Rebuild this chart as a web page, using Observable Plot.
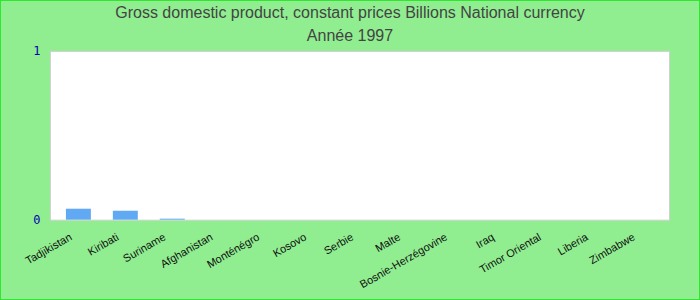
<!DOCTYPE html>
<html><head><meta charset="utf-8">
<script src="https://cdn.jsdelivr.net/npm/d3@7"></script>
<script src="https://cdn.jsdelivr.net/npm/@observablehq/plot@0.6"></script>
<style>
body{margin:0;}
#wrap{position:relative;width:700px;height:300px;box-sizing:border-box;background:#90EE90;border:1px solid #2ee82e;overflow:hidden;font-family:"Liberation Sans",Arial,sans-serif;}
.t{position:absolute;left:0;width:698px;text-align:center;color:#444;font-size:16px;}
#chart{position:absolute;left:-1px;top:-1px;}
</style></head><body>
<div id="wrap">
<div class="t" style="top:3px">Gross domestic product, constant prices Billions National currency</div>
<div class="t" style="top:26px">Année 1997</div>
<div id="chart"></div>
</div>
<script>
const countries = ["Tadjikistan","Kiribati","Suriname","Afghanistan","Monténégro","Kosovo","Serbie","Malte","Bosnie-Herzégovine","Iraq","Timor Oriental","Liberia","Zimbabwe"];
const values = [0.065,0.053,0.006,0,0,0,0,0,0,0,0,0,0];
const yTicks = [0,1];
const data = countries.map((c,i)=>({country:c,value:values[i]}));
const plot = Plot.plot({
  width:700, height:300,
  marginTop:51, marginBottom:80, marginLeft:50, marginRight:30,
  style:{background:"transparent",fontFamily:"Liberation Sans, Arial, sans-serif",fontSize:"11px"},
  x:{domain:countries, paddingInner:0.476, paddingOuter:0.238, label:null},
  y:{domain:[0,1], ticks:yTicks, label:null},
  marks:[
    Plot.frame({fill:"white",stroke:"#d0d0d0"}),
    Plot.barY(data,{x:"country",y:"value",fill:"#62a9f4"}),
    Plot.axisY({ticks:yTicks,tickFormat:d3.format("d"),tickSize:0,tickPadding:10,label:null,fill:"#0000b0",fontFamily:"DejaVu Sans Mono, monospace",fontSize:12}),
    Plot.axisX({tickSize:0,tickRotate:-30,tickPadding:16,dx:-8,label:null,fill:"#111",fontSize:11})
  ]
});
document.getElementById("chart").appendChild(plot);
</script>
</body></html>
